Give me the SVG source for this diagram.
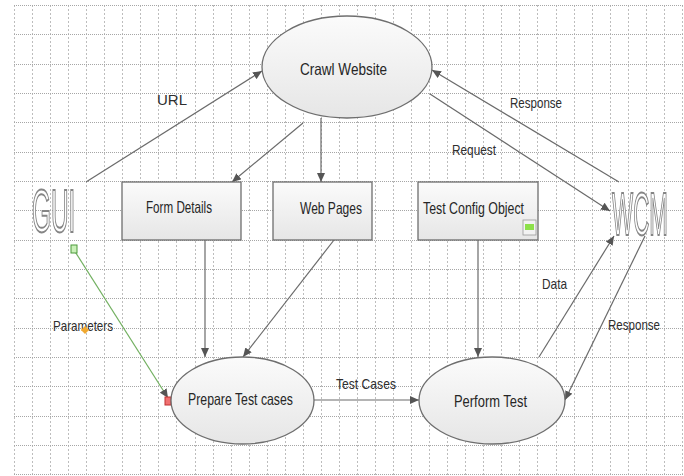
<svg xmlns="http://www.w3.org/2000/svg" width="684" height="476" viewBox="0 0 684 476">
  <style>
    .lbl { font-family: "Liberation Sans", Arial, sans-serif; font-size: 15px; fill: #2e2e2e; }
    .node-text { font-family: "Liberation Sans", Arial, sans-serif; font-size: 16.5px; fill: #262626; }
    .big { font-family: "Liberation Sans", Arial, sans-serif; font-size: 61px; fill: #fff; stroke: #858585; stroke-width: 1.5; }
    .ell { fill: url(#shade); stroke: #6e6e6e; stroke-width: 1.3; }
    .box { fill: url(#shade); stroke: #6e6e6e; stroke-width: 1.3; }
    .conn { fill: none; stroke: #6a6a6a; stroke-width: 1.2; }
    .conn-sel { fill: none; stroke: #72b060; stroke-width: 1.2; }
    .vgrid { fill: none; stroke: #bdbdbd; stroke-width: 1; stroke-dasharray: 2 2; }
    .hgrid { fill: none; stroke: #a6a6a6; stroke-width: 1; stroke-dasharray: 1 1; }
  </style>
  <defs>
    <linearGradient id="shade" x1="0" y1="0" x2="0" y2="1">
      <stop offset="0" stop-color="#fbfbfb"/>
      <stop offset="1" stop-color="#e6e6e6"/>
    </linearGradient>
    <filter id="gray" x="-10%" y="-10%" width="120%" height="120%">
      <feColorMatrix type="saturate" values="0"/>
    </filter>
    <marker id="arrow" markerUnits="userSpaceOnUse" markerWidth="10" markerHeight="8" refX="9" refY="4" orient="auto">
      <path d="M0,0 L9,4 L0,8 z" fill="#555"/>
    </marker>
  </defs>

  <!-- background grid -->
  <rect width="684" height="476" fill="#fff"/>
  <path class="vgrid" d="M14.5 5V476M32.5 5V476M50.5 5V476M68.5 5V476M86.5 5V476M104.5 5V476M122.5 5V476M140.5 5V476M158.5 5V476M176.5 5V476M195.5 5V476M213.5 5V476M231.5 5V476M249.5 5V476M267.5 5V476M285.5 5V476M303.5 5V476M321.5 5V476M339.5 5V476M357.5 5V476M375.5 5V476M393.5 5V476M411.5 5V476M429.5 5V476M447.5 5V476M465.5 5V476M483.5 5V476M501.5 5V476M519.5 5V476M537.5 5V476M556.5 5V476M574.5 5V476M592.5 5V476M610.5 5V476M628.5 5V476M646.5 5V476M664.5 5V476M682.5 5V476"/>
  <path class="hgrid" d="M14 5.5H684M14 34.5H684M14 64.5H684M14 93.5H684M14 122.5H684M14 152.5H684M14 181.5H684M14 210.5H684M14 240.5H684M14 269.5H684M14 298.5H684M14 328.5H684M14 357.5H684M14 386.5H684M14 416.5H684M14 445.5H684M14 474.5H684"/>

  <!-- connectors -->
  <g id="connectors">
    <line class="conn" x1="86" y1="182" x2="262" y2="71" marker-end="url(#arrow)"/>
    <line class="conn" x1="303" y1="123" x2="232" y2="182" marker-end="url(#arrow)"/>
    <line class="conn" x1="321" y1="118" x2="321" y2="182" marker-end="url(#arrow)"/>
    <line class="conn" x1="430" y1="94" x2="610" y2="211" marker-end="url(#arrow)"/>
    <line class="conn" x1="619" y1="182" x2="432" y2="70" marker-end="url(#arrow)"/>
    <line class="conn" x1="205" y1="240" x2="205" y2="357" marker-end="url(#arrow)"/>
    <line class="conn" x1="334" y1="240" x2="243" y2="357" marker-end="url(#arrow)"/>
    <line class="conn" x1="478" y1="240" x2="478" y2="357" marker-end="url(#arrow)"/>
    <line class="conn" x1="314" y1="400" x2="419" y2="400" marker-end="url(#arrow)"/>
    <line class="conn" x1="539" y1="357" x2="614" y2="236" marker-end="url(#arrow)"/>
    <line class="conn" x1="645" y1="236" x2="565" y2="400" marker-end="url(#arrow)"/>
    <line class="conn-sel" x1="74" y1="250" x2="168" y2="398" marker-end="url(#arrow)"/>
    <!-- selection handles on the parameters connector -->
    <rect x="71" y="245" width="6" height="8" fill="#c9f0b8" stroke="#4a9a3a" stroke-width="1"/>
    <rect x="165" y="397" width="6" height="8" fill="#f07070" stroke="#c03030" stroke-width="1"/>

    <text class="lbl" x="157" y="105" textLength="30" lengthAdjust="spacingAndGlyphs">URL</text>
    <text class="lbl" x="510" y="108" textLength="52" lengthAdjust="spacingAndGlyphs">Response</text>
    <text class="lbl" x="452" y="155" textLength="44" lengthAdjust="spacingAndGlyphs">Request</text>
    <text class="lbl" x="542" y="289" textLength="25" lengthAdjust="spacingAndGlyphs">Data</text>
    <text class="lbl" x="608" y="330" textLength="52" lengthAdjust="spacingAndGlyphs">Response</text>
    <text class="lbl" x="336" y="389" textLength="60" lengthAdjust="spacingAndGlyphs">Test Cases</text>
    <text class="lbl" x="53" y="331" textLength="60" lengthAdjust="spacingAndGlyphs">Parameters</text>
    <path d="M85,326 L89,330 L85,334 L81,330 z" fill="#f0a830"/>
  </g>

  <g id="crawl-website">
    <ellipse class="ell" cx="347" cy="67" rx="85" ry="51"/>
    <text class="node-text" x="300" y="75" textLength="87" lengthAdjust="spacingAndGlyphs">Crawl Website</text>
  </g>

  <g id="form-details">
    <rect class="box" x="122" y="182" width="119" height="58"/>
    <text class="node-text" x="146" y="213" textLength="66" lengthAdjust="spacingAndGlyphs">Form Details</text>
  </g>

  <g id="web-pages">
    <rect class="box" x="273" y="182" width="99" height="58"/>
    <text class="node-text" x="300" y="214" textLength="62" lengthAdjust="spacingAndGlyphs">Web Pages</text>
  </g>

  <g id="test-config-object">
    <rect class="box" x="418" y="182" width="120" height="58"/>
    <text class="node-text" x="423" y="214" textLength="101" lengthAdjust="spacingAndGlyphs">Test Config Object</text>
    <rect x="523" y="220" width="13" height="15" fill="#f2f2f2" stroke="#9a9a9a" stroke-width="0.8"/>
    <rect x="525" y="224" width="9" height="6" fill="#8de04a"/>
  </g>

  <g id="gui" filter="url(#gray)">
    <text class="big" transform="translate(32,232) scale(0.4,1)" vector-effect="non-scaling-stroke">GUI</text>
  </g>

  <g id="wcm" filter="url(#gray)">
    <text class="big" transform="translate(612,235) scale(0.367,1)" vector-effect="non-scaling-stroke">WCM</text>
  </g>

  <g id="prepare-test-cases">
    <ellipse class="ell" cx="242.5" cy="400.5" rx="71.5" ry="43.5"/>
    <text class="node-text" x="188" y="405" textLength="105" lengthAdjust="spacingAndGlyphs">Prepare Test  cases</text>
  </g>

  <g id="perform-test">
    <ellipse class="ell" cx="492" cy="400.5" rx="73" ry="43.5"/>
    <text class="node-text" x="454" y="407" textLength="73" lengthAdjust="spacingAndGlyphs">Perform Test</text>
  </g>
</svg>
